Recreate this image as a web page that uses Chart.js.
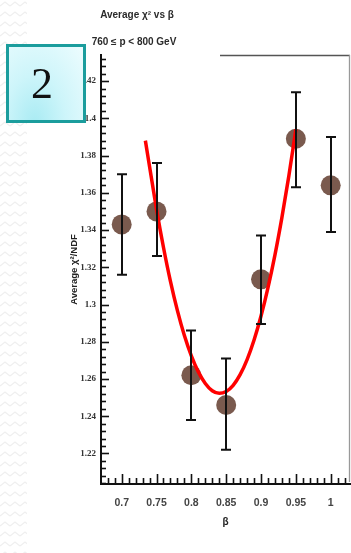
<!DOCTYPE html>
<html>
<head>
<meta charset="utf-8">
<script src="https://cdn.jsdelivr.net/npm/chart.js@4.4.1/dist/chart.umd.min.js"></script>
<style>
  html, body { margin: 0; padding: 0; background: #fff; }
  #wrap { position: relative; width: 351px; height: 553px; overflow: hidden; background: #fff; }
  #zig {
    position: absolute; left: 0; top: 0; width: 27px; height: 553px;
    background-image: url("data:image/svg+xml;utf8,<svg xmlns='http://www.w3.org/2000/svg' width='10' height='10'><polyline points='0,6 5,2 10,6' fill='none' stroke='%23efefef' stroke-width='1.3'/></svg>");
    background-repeat: repeat;
  }
  #chart { position: absolute; left: 0; top: 0; }
  #badge {
    position: absolute; left: 6px; top: 44px; height: 73px;
    border: 3px solid #1b9d9d;
    background: radial-gradient(ellipse at 35% 105%, #a9ebf3 0%, #cdf5fa 45%, #edfcfe 100%);
    font-family: "Liberation Serif", serif; font-size: 44px; color: #111;
    display: flex; align-items: center; justify-content: center;
    padding-right: 8px; box-sizing: content-box; width: 66px;
  }
</style>
</head>
<body>
<div id="wrap">
  <div id="zig"></div>
  <canvas id="chart" width="351" height="553"></canvas>
  <div id="badge">2</div>
</div>
<script>
// Measured points: mean chi2/NDF per beta bin with error-bar extents
const betaValues = [0.70, 0.75, 0.80, 0.85, 0.90, 0.95, 1.00];
const chi2Mean   = [1.343, 1.350, 1.262, 1.246, 1.3135, 1.389, 1.364];
const chi2Upper  = [1.370, 1.376, 1.286, 1.271, 1.337, 1.414, 1.390];
const chi2Lower  = [1.316, 1.326, 1.238, 1.222, 1.2895, 1.363, 1.339];

// Parabolic fit curve, sampled along its length
const fitBeta = [0.734, 0.75, 0.76, 0.77, 0.78, 0.79, 0.80, 0.81, 0.82, 0.83, 0.84,
                 0.85, 0.86, 0.87, 0.88, 0.89, 0.90, 0.91, 0.92, 0.93, 0.94, 0.95];
const fitChi2 = [1.388, 1.3511, 1.3306, 1.3124, 1.2967, 1.2833, 1.2724, 1.2638, 1.2576, 1.2537, 1.2523,
                 1.2533, 1.2566, 1.2623, 1.2704, 1.2809, 1.2938, 1.3091, 1.3267, 1.3468, 1.3692, 1.3941];

// Axis ticks
const xTickValues = [0.70, 0.75, 0.80, 0.85, 0.90, 0.95, 1.00];
const xTickLabels = ['0.7', '0.75', '0.8', '0.85', '0.9', '0.95', '1'];
const yTickValues = [1.22, 1.24, 1.26, 1.28, 1.30, 1.32, 1.34, 1.36, 1.38, 1.40, 1.42];
const yTickLabels = ['1.22', '1.24', '1.26', '1.28', '1.3', '1.32', '1.34', '1.36', '1.38', '1.4', '1.42'];

const xRange = [0.6703, 1.0277];
const yRange = [1.2036, 1.434];

const meanPoints = betaValues.map((b, i) => ({ x: b, y: chi2Mean[i] }));
const fitPoints = fitBeta.map((b, i) => ({ x: b, y: fitChi2[i] }));

// Vertical error bars with short caps
const errorBars = {
  id: 'errorBars',
  afterDatasetsDraw(chart) {
    const { ctx, scales: { x, y } } = chart;
    ctx.save();
    ctx.strokeStyle = '#111';
    ctx.lineWidth = 2;
    betaValues.forEach((b, i) => {
      const px = Math.round(x.getPixelForValue(b));
      const top = y.getPixelForValue(chi2Upper[i]);
      const bot = y.getPixelForValue(chi2Lower[i]);
      ctx.beginPath();
      ctx.moveTo(px, top); ctx.lineTo(px, bot);
      ctx.moveTo(px - 5, top); ctx.lineTo(px + 5, top);
      ctx.moveTo(px - 5, bot); ctx.lineTo(px + 5, bot);
      ctx.stroke();
    });
    ctx.restore();
  }
};

// Tick marks drawn inward from the axes, plus the thin frame edges
const innerTicks = {
  id: 'innerTicks',
  afterDraw(chart) {
    const { ctx, chartArea: a, scales: { x, y } } = chart;
    ctx.save();
    ctx.strokeStyle = '#111';
    ctx.lineWidth = 1.6;
    // y axis: major every 0.02, minor every 0.004
    for (let k = 301; k <= 358; k++) {
      const v = k * 0.004;
      if (v < yRange[0] - 1e-9 || v > yRange[1] + 1e-9) continue;
      const major = (k % 5 === 0);
      const py = Math.round(y.getPixelForValue(v)) + 0.5;
      ctx.beginPath();
      ctx.moveTo(a.left, py);
      ctx.lineTo(a.left + (major ? 8 : 5), py);
      ctx.stroke();
    }
    // x axis: major every 0.05, minor every 0.01
    for (let k = 67; k <= 102; k++) {
      const v = k * 0.01;
      if (v < xRange[0] - 1e-9 || v > xRange[1] + 1e-9) continue;
      const major = (k % 5 === 0);
      const px = Math.round(x.getPixelForValue(v)) + 0.5;
      ctx.beginPath();
      ctx.moveTo(px, a.bottom);
      ctx.lineTo(px, a.bottom - (major ? 10 : 6));
      ctx.stroke();
    }
    // partial top edge and right edge
    ctx.strokeStyle = '#555';
    ctx.lineWidth = 1.3;
    ctx.beginPath();
    ctx.moveTo(a.left + 119, a.top + 0.5);
    ctx.lineTo(a.right, a.top + 0.5);
    ctx.stroke();
    ctx.strokeStyle = '#999';
    ctx.beginPath();
    ctx.moveTo(a.right - 0.5, a.top);
    ctx.lineTo(a.right - 0.5, a.bottom - 2);
    ctx.stroke();
    ctx.restore();
  }
};

// Heading lines above the plot
const headings = {
  id: 'headings',
  afterDraw(chart) {
    const { ctx } = chart;
    ctx.save();
    ctx.fillStyle = '#2a2a2a';
    ctx.font = 'bold 10px "Liberation Sans", Arial, sans-serif';
    ctx.textAlign = 'center';
    ctx.textBaseline = 'middle';
    ctx.fillText('Average \u03c7\u00b2 vs \u03b2', 137, 15);
    ctx.fillText('760 \u2264 p < 800 GeV', 134, 42);
    ctx.restore();
  }
};

new Chart(document.getElementById('chart'), {
  type: 'scatter',
  data: {
    datasets: [
      {
        type: 'line',
        data: fitPoints,
        borderColor: '#ff0000',
        borderWidth: 3.5,
        pointRadius: 0,
        fill: false,
        cubicInterpolationMode: 'monotone',
        order: 1
      },
      {
        data: meanPoints,
        backgroundColor: '#7a5a4e',
        borderWidth: 0,
        pointRadius: 10,
        pointHoverRadius: 10,
        order: 2
      }
    ]
  },
  options: {
    responsive: false,
    animation: false,
    events: [],
    layout: { autoPadding: false, padding: { top: 55, right: 1, left: 0, bottom: 0 } },
    plugins: { legend: { display: false }, tooltip: { enabled: false } },
    scales: {
      x: {
        type: 'linear',
        min: xRange[0],
        max: xRange[1],
        afterBuildTicks: (axis) => { axis.ticks = xTickValues.map(v => ({ value: v })); },
        afterFit: (axis) => { axis.height = 69; axis.paddingLeft = 0; axis.paddingRight = 0; },
        ticks: {
          autoSkip: false, maxRotation: 0, padding: 13,
          color: '#444',
          font: { family: '"Liberation Sans", Arial, sans-serif', size: 10.5, weight: 'bold' },
          callback: (v, i) => xTickLabels[i]
        },
        grid: { display: false, drawTicks: false },
        border: { display: true, color: '#111', width: 2 },
        title: {
          display: true, text: '\u03b2', color: '#222',
          font: { family: '"Liberation Sans", Arial, sans-serif', size: 10, weight: 'bold' },
          padding: { top: 0, bottom: 25 }
        }
      },
      y: {
        type: 'linear',
        min: yRange[0],
        max: yRange[1],
        afterBuildTicks: (axis) => { axis.ticks = yTickValues.map(v => ({ value: v })); },
        afterFit: (axis) => { axis.width = 101; axis.paddingTop = 0; axis.paddingBottom = 0; },
        ticks: {
          autoSkip: false, padding: 5,
          color: '#333',
          font: { family: '"Liberation Serif", "Times New Roman", serif', size: 9, weight: 'bold' },
          callback: (v, i) => yTickLabels[i]
        },
        grid: { display: false, drawTicks: false },
        border: { display: true, color: '#111', width: 2 },
        title: {
          display: true, text: 'Average \u03c7\u00b2/NDF', color: '#222',
          font: { family: '"Liberation Sans", Arial, sans-serif', size: 9.5, weight: 'bold' },
          padding: { top: 69, bottom: 0 }
        }
      }
    }
  },
  plugins: [errorBars, innerTicks, headings]
});
</script>
</body>
</html>
